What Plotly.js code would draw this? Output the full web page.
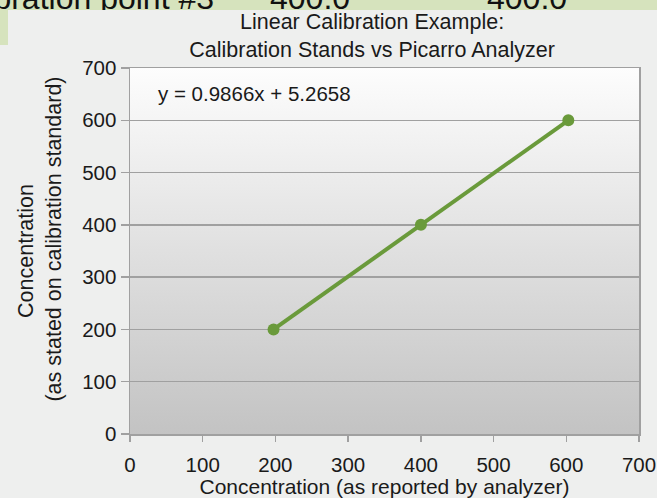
<!DOCTYPE html>
<html>
<head>
<meta charset="utf-8">
<script src="https://cdn.plot.ly/plotly-3.0.1.min.js"></script>
<style>
  html, body { margin: 0; padding: 0; background: #eeefee; }
  #page { position: relative; width: 657px; height: 498px; overflow: hidden; background: #eeefee; }
  #strip { position: absolute; left: 0; top: 0; width: 657px; height: 45px; background: #d6e3bd; overflow: hidden; }
  .cell { position: absolute; top: 0; height: 45px; overflow: hidden; background: #d6e3bd;
          font-family: "Liberation Sans", Arial, sans-serif; font-size: 32px; line-height: 32px; color: #111; }
  .cell span { position: absolute; top: -18px; white-space: nowrap; }
  #chart { position: absolute; left: 8px; top: 10px; width: 649px; height: 488px; }
</style>
</head>
<body>
<div id="page">
  <div id="strip">
    <div class="cell" style="left:0; width:261px;"><span id="c1" style="right:47px;"></span></div>
    <div class="cell" style="left:264px; width:214px;"><span id="c2" style="left:6px;"></span></div>
    <div class="cell" style="left:481px; width:176px;"><span id="c3" style="left:6px;"></span></div>
  </div>
  <div id="chart"></div>
</div>
<script>
// table fragment visible above the chart
const tableRow = ["Calibration point #3", "400.0", "400.0"];

// chart data
const analyzerConc = [197.4, 400.1, 602.8];   // x: concentration reported by analyzer
const standardConc = [200, 400, 600];         // y: concentration stated on calibration standard
const axisTicks = [0, 100, 200, 300, 400, 500, 600, 700];
const tickLabels = ["0", "100", "200", "300", "400", "500", "600", "700"];
const equationText = "y = 0.9866x + 5.2658";
const chartTitle = "Linear Calibration Example:<br>Calibration Stands vs Picarro Analyzer";
const xTitle = "Concentration (as reported by analyzer)";
const yTitleLines = ["Concentration", "(as stated on calibration standard)"];

document.getElementById("c1").textContent = tableRow[0];
document.getElementById("c2").textContent = tableRow[1];
document.getElementById("c3").textContent = tableRow[2];

const FONT = '"Liberation Sans", Arial, Helvetica, sans-serif';
const gradSvg = '<svg xmlns="http://www.w3.org/2000/svg" width="10" height="100" preserveAspectRatio="none">' +
  '<defs><linearGradient id="g" x1="0" y1="0" x2="0" y2="1">' +
  '<stop offset="0" stop-color="#fdfdfd"/><stop offset="1" stop-color="#c3c3c3"/>' +
  '</linearGradient></defs><rect width="10" height="100" fill="url(#g)"/></svg>';
const gradSrc = 'data:image/svg+xml;utf8,' + encodeURIComponent(gradSvg);

// leading no-break spaces nudge the centred rotated title slightly upward, as in the reference
const pad = '\u00a0\u00a0\u00a0\u00a0';
const yTitle = yTitleLines.map(function (s) { return pad + s; }).join('<br>');

const trace = {
  type: 'scatter',
  mode: 'lines+markers',
  x: analyzerConc,
  y: standardConc,
  line: { color: '#6a9a3b', width: 4 },
  marker: { color: '#6a9a3b', size: 12 },
  hoverinfo: 'skip'
};

const axisCommon = {
  range: [0, 700],
  tickmode: 'array',
  tickvals: axisTicks,
  ticktext: tickLabels,
  showline: true,
  mirror: true,
  linecolor: '#a0a0a0',
  linewidth: 1.5,
  ticks: 'outside',
  tickcolor: '#a0a0a0',
  tickwidth: 1.5,
  zeroline: false,
  fixedrange: true,
  tickfont: { family: FONT, size: 20.5, color: '#1a1a1a' }
};

const layout = {
  width: 649,
  height: 488,
  margin: { l: 122, r: 18, t: 58, b: 64 },
  paper_bgcolor: '#eeefee',
  plot_bgcolor: 'rgba(0,0,0,0)',
  showlegend: false,
  font: { family: FONT, size: 20, color: '#1a1a1a' },
  title: {
    text: chartTitle,
    font: { family: FONT, size: 21.5, color: '#1a1a1a' },
    xref: 'container', x: 0.561, xanchor: 'center',
    yref: 'container', y: 0.961, yanchor: 'top'
  },
  xaxis: Object.assign({}, axisCommon, {
    showgrid: false,
    ticklen: 6,
    ticklabelstandoff: 6,
    title: { text: xTitle, font: { family: FONT, size: 21, color: '#1a1a1a' }, standoff: 7 }
  }),
  yaxis: Object.assign({}, axisCommon, {
    showgrid: true,
    gridcolor: '#a0a0a0',
    gridwidth: 1.5,
    ticklen: 8,
    title: { text: yTitle, font: { family: FONT, size: 21.5, color: '#1a1a1a' }, standoff: 14 }
  }),
  images: [{
    source: gradSrc,
    xref: 'paper', yref: 'paper',
    x: 0, y: 1, sizex: 1, sizey: 1,
    xanchor: 'left', yanchor: 'top',
    sizing: 'stretch', layer: 'below'
  }],
  annotations: [{
    text: equationText,
    xref: 'x', yref: 'y',
    x: 36, y: 652,
    xanchor: 'left', yanchor: 'middle',
    showarrow: false,
    font: { family: FONT, size: 20.5, color: '#1a1a1a' }
  }]
};

Plotly.newPlot('chart', [trace], layout, { displayModeBar: false, staticPlot: true });
</script>
</body>
</html>
